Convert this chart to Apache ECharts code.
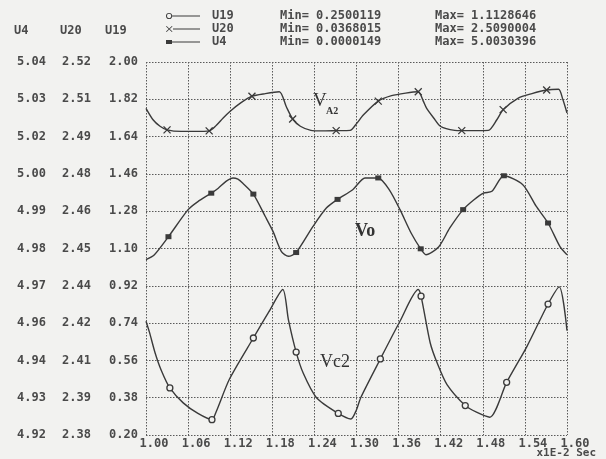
<!DOCTYPE html>
<html>
<head>
<meta charset="utf-8">
<script src="https://cdn.jsdelivr.net/npm/echarts@6/dist/echarts.min.js"></script>
<style>
html,body{margin:0;padding:0;background:#f2f2f0;}
#c{width:606px;height:459px;}
</style>
</head>
<body>
<div id="c"></div>
<script>
// ---- data ----
// time axis in units of 1E-2 s
const X_TICKS_MIN = 1.00, X_TICKS_MAX = 1.60, X_STEP = 0.06;

// Series names and legend text
const SERIES_NAMES = ['U19', 'U20', 'U4'];
const LEG_MIN = ['0.2500119', '0.0368015', '0.0000149'];
const LEG_MAX = ['1.1128646', '2.5090004', '5.0030396'];

// Axis ranges (each series has its own scale): [min, max, interval]
const U19_AXIS = [0.20, 2.00, 0.18];
const U20_AXIS = [2.378, 2.522, 0.0144];
const U4_AXIS = [4.92, 5.04, 0.012];

// V_A2 curve  (U20, X markers)
const VA2_T = [1.000,1.010,1.020,1.030,1.050,1.070,1.090,1.100,1.110,1.120,1.135,1.151,1.170,1.190,1.200,1.209,1.220,1.235,1.250,1.271,1.291,1.300,1.310,1.331,1.350,1.370,1.388,1.395,1.400,1.410,1.420,1.440,1.450,1.470,1.488,1.500,1.509,1.530,1.550,1.571,1.588,1.594,1.600];
const VA2_V = [2.5041,2.4997,2.4972,2.4958,2.4952,2.4952,2.4954,2.4975,2.5004,2.5030,2.5062,2.5088,2.5098,2.5105,2.5047,2.5000,2.4972,2.4956,2.4954,2.4955,2.4956,2.4982,2.5016,2.5069,2.5090,2.5100,2.5105,2.5070,2.5041,2.5004,2.4971,2.4956,2.4955,2.4955,2.4956,2.4997,2.5036,2.5080,2.5098,2.5112,2.5115,2.5076,2.5023];
const VA2_MARK = [1.030,1.090,1.151,1.209,1.271,1.331,1.388,1.450,1.509,1.571];

// Vo curve (U4, square markers)
const VO_T = [1.000,1.012,1.032,1.060,1.074,1.093,1.103,1.114,1.124,1.131,1.138,1.153,1.170,1.181,1.193,1.203,1.214,1.238,1.257,1.273,1.295,1.312,1.331,1.347,1.362,1.378,1.3915,1.399,1.417,1.433,1.452,1.467,1.481,1.493,1.510,1.537,1.556,1.573,1.590,1.600];
const VO_V = [4.9764,4.9780,4.9838,4.9925,4.9951,4.9978,4.9994,5.0016,5.0027,5.0023,5.0010,4.9975,4.9903,4.9855,4.9790,4.9775,4.9787,4.9871,4.9930,4.9958,4.9990,5.0027,5.0027,4.9988,4.9925,4.9849,4.9799,4.9780,4.9805,4.9866,4.9925,4.9956,4.9978,4.9984,5.0034,5.0005,4.9936,4.9882,4.9806,4.9780];
const VO_MARK = [1.032,1.093,1.153,1.214,1.273,1.331,1.3915,1.452,1.510,1.573];

// Vc2 curve (U19, circle markers)
const VC2_T = [1.000,1.005,1.013,1.022,1.034,1.053,1.074,1.094,1.100,1.119,1.153,1.175,1.195,1.203,1.214,1.224,1.243,1.274,1.292,1.300,1.306,1.334,1.362,1.388,1.392,1.405,1.415,1.429,1.455,1.471,1.490,1.514,1.543,1.573,1.589,1.600];
const VC2_V = [0.749,0.695,0.596,0.510,0.427,0.355,0.304,0.274,0.312,0.470,0.668,0.794,0.902,0.756,0.600,0.499,0.380,0.304,0.277,0.322,0.380,0.567,0.749,0.902,0.870,0.645,0.547,0.443,0.342,0.310,0.286,0.454,0.628,0.832,0.915,0.704];
const VC2_MARK = [1.034,1.094,1.153,1.214,1.274,1.334,1.392,1.455,1.514,1.573];

// ---- chart ----
const INK = '#3a3a3a';
const TXT = '#4a4a4a';
const BG = '#f2f2f0';
const MONO = '"DejaVu Sans Mono", "Liberation Mono", monospace';

// legend icons: marker at the left end of a short line
const ICONS = [
  'path://M1,4A3,3 0 1,1 7,4A3,3 0 1,1 1,4Z M1.9,4A2.1,2.1 0 1,0 6.1,4A2.1,2.1 0 1,0 1.9,4Z M7,3.4L34,3.4L34,4.6L7,4.6Z',
  'path://M0,1.6L0.6,1L6.5,6.4L5.9,7Z M0.6,7L0,6.4L5.9,1L6.5,1.6Z M7,3.4L34,3.4L34,4.6L7,4.6Z',
  'path://M0,2L6,2L6,6L0,6Z M6,3.4L34,3.4L34,4.6L6,4.6Z'
];

function build(ts, vs, marks) {
  return ts.map((t, i) => {
    const item = { value: [t, vs[i]] };
    if (marks.indexOf(t) < 0) item.symbol = 'none';
    return item;
  });
}

const labelStyle = { color: TXT, fontFamily: MONO, fontWeight: 'bold', fontSize: 12 };
function yAxis(range, offset, showSplit) {
  return {
    type: 'value', position: 'left', offset: offset,
    min: range[0], max: range[1], interval: range[2],
    axisLine: { show: false }, axisTick: { show: false },
    axisLabel: Object.assign({ margin: 8, formatter: v => v.toFixed(2) }, labelStyle),
    splitLine: { show: showSplit, lineStyle: { color: '#5a5a5a', type: [1.5, 1.5], width: 1 } }
  };
}

const chart = echarts.init(document.getElementById('c'), null, { renderer: 'canvas' });
chart.setOption({
  backgroundColor: BG,
  animation: false,
  grid: { left: 146, right: 39, top: 62, bottom: 24, containLabel: false },
  xAxis: {
    type: 'value', min: X_TICKS_MIN, max: X_TICKS_MAX, interval: X_STEP,
    axisLine: { show: false }, axisTick: { show: false },
    axisLabel: Object.assign({ margin: 3, padding: [0, 0, 0, 16], formatter: v => v.toFixed(2) }, labelStyle),
    splitLine: { show: true, lineStyle: { color: '#5a5a5a', type: [1.5, 1.5], width: 1 } }
  },
  yAxis: [yAxis(U19_AXIS, 0, true), yAxis(U20_AXIS, 47, false), yAxis(U4_AXIS, 92, false)],
  legend: {
    orient: 'vertical', left: 166, top: 10, padding: 0,
    itemWidth: 34, itemHeight: 8, itemGap: 1,
    data: SERIES_NAMES.map((n, i) => ({ name: n, icon: ICONS[i], itemStyle: { color: INK, borderWidth: 0 } })),
    selectedMode: false,
    formatter: name => {
      const i = SERIES_NAMES.indexOf(name);
      return '{n|' + name + '}{a|Min= ' + LEG_MIN[i] + '}{b|Max= ' + LEG_MAX[i] + '}';
    },
    textStyle: {
      color: TXT, fontFamily: MONO, fontWeight: 'bold', fontSize: 12, lineHeight: 12,
      rich: {
        n: { width: 68, padding: [0, 0, 0, 7], fontFamily: MONO, fontWeight: 'bold', fontSize: 12, color: TXT },
        a: { width: 155, fontFamily: MONO, fontWeight: 'bold', fontSize: 12, color: TXT },
        b: { fontFamily: MONO, fontWeight: 'bold', fontSize: 12, color: TXT }
      }
    }
  },
  series: [
    {
      name: 'U19', type: 'line', yAxisIndex: 0, smooth: 0.25,
      symbol: 'circle', symbolSize: 6,
      itemStyle: { color: BG, borderColor: INK, borderWidth: 1.3 },
      lineStyle: { color: INK, width: 1.4 },
      data: build(VC2_T, VC2_V, VC2_MARK)
    },
    {
      name: 'U20', type: 'line', yAxisIndex: 1, smooth: 0.25,
      symbol: 'path://M0 0L10 10M10 0L0 10', symbolSize: 7,
      itemStyle: { color: INK, borderColor: INK, borderWidth: 1.3 },
      lineStyle: { color: INK, width: 1.4 },
      data: build(VA2_T, VA2_V, VA2_MARK)
    },
    {
      name: 'U4', type: 'line', yAxisIndex: 2, smooth: 0.25,
      symbol: 'rect', symbolSize: [6, 5],
      itemStyle: { color: INK },
      lineStyle: { color: INK, width: 1.4 },
      data: build(VO_T, VO_V, VO_MARK)
    }
  ],
  graphic: [
    { type: 'text', x: 14, y: 31, style: { text: 'U4', fill: TXT, font: 'bold 12px ' + MONO, align: 'left', verticalAlign: 'middle' } },
    { type: 'text', x: 60, y: 31, style: { text: 'U20', fill: TXT, font: 'bold 12px ' + MONO, align: 'left', verticalAlign: 'middle' } },
    { type: 'text', x: 105, y: 31, style: { text: 'U19', fill: TXT, font: 'bold 12px ' + MONO, align: 'left', verticalAlign: 'middle' } },
    { type: 'text', x: 596, y: 453, style: { text: 'x1E-2 Sec', fill: TXT, font: 'bold 11px ' + MONO, align: 'right', verticalAlign: 'middle' } },
    { type: 'text', x: 313, y: 101, style: { text: 'V', fill: '#333', font: '19px "Liberation Serif", serif', align: 'left', verticalAlign: 'middle' } },
    { type: 'text', x: 326, y: 111, style: { text: 'A2', fill: '#333', font: 'bold 10px "Liberation Serif", serif', align: 'left', verticalAlign: 'middle' } },
    { type: 'text', x: 355, y: 231, style: { text: 'Vo', fill: '#333', font: 'bold 18px "Liberation Serif", serif', align: 'left', verticalAlign: 'middle' } },
    { type: 'text', x: 320, y: 362, style: { text: 'Vc2', fill: '#333', font: '18px "Liberation Serif", serif', align: 'left', verticalAlign: 'middle' } }
  ]
});
</script>
</body>
</html>
